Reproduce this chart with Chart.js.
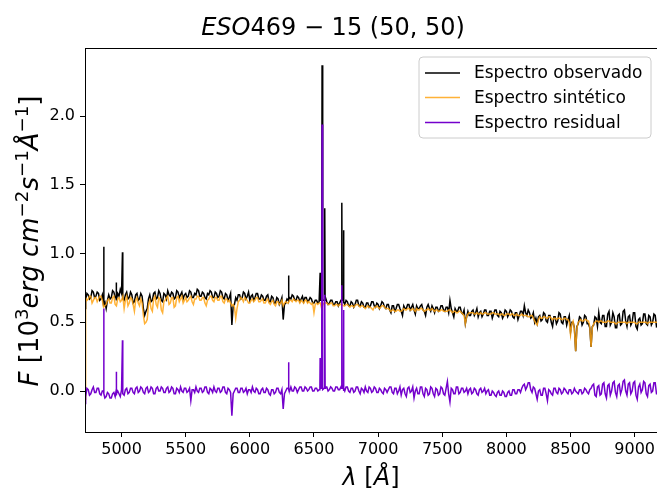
<!DOCTYPE html>
<html>
<head>
<meta charset="utf-8">
<script src="https://cdn.jsdelivr.net/npm/chart.js@4.4.1/dist/chart.umd.min.js"></script>
<style>
  html, body { margin: 0; padding: 0; background: #fff; overflow: hidden; }
  #caja { width: 657px; height: 495px; overflow: hidden; }
</style>
</head>
<body>
<div id="caja"><canvas id="espectro" width="662" height="495"></canvas></div>
<script>
// Malla de longitudes de onda (Å): 4720 a 9180 cada 10
const lambdaInicio = 4720;
const lambdaPaso = 10;

// Espectro observado (10^3 erg cm^-2 s^-1 Å^-1), filas de 20 puntos (200 Å)
const observado = [
  0.66,0.71,0.70,0.67,0.68,0.73,0.72,0.68,0.69,0.72,0.71,0.66,0.67,0.70,0.62,0.65,0.60,0.66,0.70,0.67, // 4720
  0.68,0.73,0.72,0.68,0.66,0.71,0.69,0.74,0.71,0.67,0.66,0.70,0.72,0.67,0.68,0.72,0.70,0.64,0.65,0.70, // 4920
  0.71,0.66,0.67,0.71,0.69,0.60,0.55,0.58,0.60,0.67,0.70,0.65,0.66,0.71,0.72,0.67,0.68,0.73,0.71,0.66, // 5120
  0.65,0.71,0.70,0.67,0.73,0.70,0.69,0.72,0.71,0.67,0.68,0.73,0.72,0.68,0.70,0.72,0.67,0.70,0.71,0.68, // 5320
  0.69,0.73,0.72,0.68,0.68,0.71,0.70,0.74,0.73,0.69,0.69,0.72,0.71,0.68,0.67,0.71,0.70,0.73,0.72,0.68, // 5520
  0.68,0.72,0.71,0.68,0.69,0.73,0.72,0.68,0.67,0.71,0.70,0.66,0.68,0.71,0.48,0.62,0.63,0.68,0.66,0.70, // 5720
  0.70,0.67,0.68,0.72,0.71,0.67,0.69,0.72,0.66,0.69,0.70,0.66,0.68,0.71,0.71,0.67,0.67,0.70,0.69,0.66, // 5920
  0.66,0.69,0.70,0.65,0.65,0.69,0.68,0.64,0.64,0.68,0.67,0.63,0.65,0.68,0.52,0.63,0.64,0.67,0.66,0.68, // 6120
  0.67,0.70,0.69,0.66,0.66,0.69,0.68,0.65,0.67,0.69,0.65,0.68,0.68,0.65,0.66,0.68,0.67,0.64,0.64,0.66, // 6320
  0.66,0.64,0.65,0.67,0.66,0.66,0.66,0.68,0.65,0.63,0.64,0.66,0.66,0.63,0.63,0.65,0.65,0.62,0.64,0.66, // 6520
  0.66,0.64,0.63,0.66,0.65,0.62,0.62,0.65,0.64,0.61,0.63,0.66,0.66,0.62,0.62,0.65,0.64,0.61,0.61,0.64, // 6720
  0.64,0.61,0.62,0.65,0.65,0.62,0.61,0.64,0.63,0.60,0.62,0.65,0.64,0.61,0.60,0.63,0.63,0.59,0.57,0.62, // 6920
  0.62,0.58,0.60,0.63,0.63,0.60,0.58,0.55,0.62,0.60,0.60,0.63,0.63,0.59,0.61,0.63,0.59,0.56,0.62,0.60, // 7120
  0.60,0.62,0.63,0.59,0.58,0.55,0.61,0.63,0.60,0.58,0.62,0.60,0.57,0.61,0.61,0.58,0.59,0.62,0.62,0.59, // 7320
  0.58,0.61,0.61,0.57,0.66,0.60,0.57,0.54,0.60,0.58,0.58,0.61,0.61,0.57,0.56,0.59,0.49,0.54,0.58,0.55, // 7520
  0.55,0.58,0.59,0.55,0.57,0.60,0.54,0.57,0.58,0.54,0.56,0.59,0.59,0.55,0.55,0.58,0.58,0.53,0.56,0.59, // 7720
  0.59,0.55,0.54,0.58,0.57,0.53,0.55,0.59,0.58,0.54,0.56,0.59,0.58,0.54,0.53,0.57,0.57,0.52,0.55,0.58, // 7920
  0.58,0.55,0.62,0.57,0.55,0.59,0.57,0.53,0.54,0.57,0.50,0.53,0.49,0.54,0.55,0.51,0.52,0.57,0.56,0.51, // 8120
  0.50,0.55,0.55,0.50,0.47,0.54,0.54,0.49,0.51,0.57,0.56,0.50,0.49,0.54,0.54,0.48,0.52,0.55,0.43,0.50, // 8320
  0.50,0.46,0.29,0.47,0.49,0.54,0.53,0.48,0.50,0.55,0.54,0.49,0.49,0.46,0.32,0.47,0.48,0.54,0.53,0.47, // 8520
  0.57,0.50,0.49,0.55,0.55,0.47,0.47,0.56,0.58,0.48,0.50,0.57,0.54,0.46,0.46,0.55,0.56,0.48,0.49,0.58, // 8720
  0.59,0.51,0.47,0.54,0.55,0.48,0.50,0.57,0.57,0.47,0.45,0.52,0.53,0.48,0.49,0.56,0.56,0.49,0.48,0.55, // 8920
  0.54,0.48,0.50,0.56,0.55,0.47,0.48                                                                  // 9120
];

// Espectro sintético
const sintetico = [
  0.68,0.66,0.67,0.69,0.69,0.64,0.66,0.68,0.68,0.65,0.67,0.69,0.69,0.66,0.61,0.62,0.63,0.66,0.67,0.64, // 4720
  0.64,0.68,0.69,0.63,0.62,0.67,0.68,0.65,0.66,0.69,0.60,0.66,0.69,0.62,0.64,0.68,0.67,0.63,0.58,0.66, // 4920
  0.68,0.64,0.62,0.67,0.64,0.55,0.49,0.50,0.52,0.63,0.66,0.60,0.58,0.67,0.69,0.63,0.61,0.68,0.67,0.59, // 5120
  0.57,0.65,0.66,0.68,0.69,0.63,0.64,0.68,0.68,0.61,0.62,0.68,0.69,0.65,0.67,0.69,0.64,0.66,0.68,0.65, // 5320
  0.66,0.68,0.69,0.65,0.63,0.67,0.67,0.69,0.69,0.66,0.66,0.68,0.68,0.64,0.62,0.66,0.67,0.69,0.69,0.66, // 5520
  0.65,0.68,0.68,0.66,0.66,0.69,0.69,0.65,0.64,0.67,0.67,0.65,0.66,0.64,0.62,0.63,0.61,0.53,0.60,0.65, // 5720
  0.66,0.68,0.67,0.65,0.68,0.67,0.66,0.64,0.64,0.66,0.67,0.65,0.66,0.68,0.68,0.65,0.65,0.66,0.67,0.64, // 5920
  0.64,0.66,0.67,0.64,0.63,0.65,0.66,0.63,0.62,0.65,0.65,0.63,0.64,0.66,0.62,0.64,0.65,0.64,0.64,0.66, // 6120
  0.66,0.65,0.67,0.66,0.65,0.66,0.66,0.64,0.66,0.65,0.64,0.66,0.66,0.64,0.65,0.64,0.63,0.64,0.57,0.63, // 6320
  0.64,0.63,0.64,0.64,0.60,0.63,0.64,0.64,0.64,0.63,0.63,0.64,0.64,0.62,0.62,0.63,0.63,0.62,0.63,0.63, // 6520
  0.63,0.62,0.62,0.63,0.63,0.62,0.61,0.62,0.62,0.61,0.62,0.63,0.63,0.62,0.61,0.62,0.62,0.61,0.60,0.61, // 6720
  0.62,0.61,0.61,0.60,0.59,0.61,0.61,0.62,0.61,0.60,0.61,0.62,0.62,0.61,0.60,0.60,0.60,0.59,0.58,0.59, // 6920
  0.59,0.58,0.58,0.59,0.59,0.58,0.58,0.59,0.60,0.59,0.59,0.60,0.60,0.59,0.59,0.60,0.59,0.58,0.60,0.59, // 7120
  0.59,0.60,0.60,0.59,0.58,0.59,0.59,0.60,0.59,0.59,0.60,0.59,0.58,0.59,0.59,0.58,0.58,0.59,0.59,0.58, // 7320
  0.58,0.58,0.58,0.59,0.59,0.58,0.57,0.58,0.58,0.57,0.57,0.58,0.58,0.57,0.56,0.55,0.49,0.54,0.56,0.57, // 7520
  0.57,0.57,0.57,0.56,0.56,0.57,0.56,0.56,0.57,0.56,0.56,0.57,0.57,0.56,0.56,0.56,0.56,0.57,0.57,0.56, // 7720
  0.56,0.56,0.56,0.55,0.56,0.56,0.55,0.55,0.56,0.56,0.56,0.55,0.56,0.56,0.55,0.55,0.56,0.55,0.55,0.55, // 7920
  0.56,0.55,0.55,0.55,0.55,0.54,0.54,0.55,0.55,0.53,0.51,0.49,0.48,0.52,0.54,0.53,0.53,0.54,0.54,0.53, // 8120
  0.53,0.54,0.54,0.53,0.52,0.53,0.53,0.52,0.53,0.53,0.53,0.52,0.52,0.53,0.53,0.52,0.52,0.50,0.41,0.49, // 8320
  0.51,0.45,0.29,0.46,0.50,0.51,0.52,0.51,0.51,0.52,0.52,0.51,0.51,0.47,0.32,0.46,0.49,0.50,0.51,0.51, // 8520
  0.50,0.51,0.51,0.50,0.50,0.50,0.50,0.51,0.51,0.50,0.50,0.50,0.50,0.49,0.49,0.50,0.50,0.50,0.50,0.50, // 8720
  0.50,0.50,0.49,0.50,0.50,0.50,0.50,0.50,0.50,0.49,0.49,0.50,0.50,0.50,0.50,0.50,0.50,0.50,0.49,0.50, // 8920
  0.50,0.50,0.50,0.50,0.50,0.50,0.50                                                                  // 9120
];

// Espectro residual
const residual = [
  -0.04,0.02,0.01,-0.03,-0.02,0.01,0.03,-0.01,-0.01,0.02,0.02,-0.02,-0.03,0.00,0.00,-0.05,-0.04,-0.01,-0.02,-0.05, // 4720
  -0.05,-0.02,-0.01,-0.04,-0.03,0.00,-0.02,-0.04,0.01,-0.02,-0.03,0.01,0.02,-0.02,-0.01,0.02,0.02,-0.01,-0.02,0.02, // 4920
  0.03,-0.01,0.00,0.03,0.02,-0.01,-0.02,0.02,0.03,-0.01,0.00,0.03,0.02,-0.02,-0.02,0.02,0.03,0.00,0.00,0.03,      // 5120
  0.02,-0.01,-0.01,0.02,0.03,-0.01,0.00,0.03,0.02,-0.02,-0.02,0.02,0.01,-0.01,0.03,0.00,-0.01,0.02,0.02,-0.01,    // 5320
  0.00,0.02,-0.07,0.01,0.01,-0.01,0.03,0.00,-0.01,0.02,0.02,-0.01,0.00,0.03,0.03,-0.01,-0.02,0.02,0.01,-0.01,     // 5520
  0.03,0.00,-0.01,0.02,0.02,-0.01,0.00,0.03,0.03,-0.01,-0.02,0.02,0.01,-0.01,-0.18,-0.02,0.00,0.02,0.02,-0.01,    // 5720
  -0.01,0.02,0.02,-0.01,0.00,0.02,-0.02,0.01,0.01,-0.01,0.03,0.00,-0.01,0.02,0.01,-0.02,-0.02,0.01,0.02,-0.01,    // 5920
  -0.01,0.02,0.01,-0.02,-0.03,0.01,0.01,-0.02,-0.01,0.02,0.02,-0.01,-0.02,0.01,-0.13,-0.02,0.00,0.02,0.02,0.00,   // 6120
  0.03,0.00,0.00,0.03,0.02,-0.01,0.01,0.03,0.03,0.00,0.00,0.03,0.02,0.00,0.01,0.03,0.03,0.00,0.00,0.02,           // 6320
  0.02,0.00,0.01,0.03,0.02,0.01,0.02,0.03,0.03,0.00,0.01,0.03,0.02,0.00,0.00,0.03,0.03,0.01,0.01,0.03,            // 6520
  0.02,0.00,0.00,0.03,0.03,0.00,-0.01,0.02,0.02,-0.01,0.00,0.03,0.03,0.00,-0.02,0.02,0.01,-0.01,0.03,0.00,        // 6720
  -0.01,0.03,0.02,-0.01,0.00,0.03,0.02,-0.01,-0.01,0.02,0.01,-0.01,-0.02,0.02,0.01,-0.01,0.01,0.03,0.03,-0.01,    // 6920
  -0.02,0.02,0.02,-0.02,0.00,0.03,-0.03,0.01,0.02,-0.02,-0.04,0.02,0.03,-0.01,0.00,0.03,-0.05,0.00,0.02,-0.02,    // 7120
  -0.02,0.03,0.03,-0.02,-0.04,0.02,0.01,-0.03,-0.02,0.03,0.02,-0.02,-0.04,0.02,0.01,-0.03,-0.02,0.03,0.02,-0.02,  // 7320
  -0.03,0.02,0.07,-0.02,-0.08,0.02,0.01,-0.02,-0.02,0.03,0.03,-0.02,-0.01,0.02,0.02,-0.01,0.00,0.02,-0.02,0.01,   // 7520
  0.02,-0.02,-0.01,0.02,0.01,-0.02,-0.03,0.01,0.02,-0.01,0.00,0.02,-0.02,0.00,0.01,-0.03,-0.03,0.00,-0.01,-0.03,  // 7720
  -0.04,-0.01,0.00,-0.03,-0.03,0.00,-0.01,-0.04,-0.04,-0.01,0.00,-0.03,-0.03,0.01,0.01,-0.02,-0.02,0.01,0.01,-0.01, // 7920
  0.02,0.04,0.05,0.01,0.03,0.06,0.06,0.01,-0.01,0.03,0.02,-0.02,-0.06,0.00,0.01,-0.03,-0.03,0.02,0.02,-0.02,      // 8120
  -0.07,0.01,0.00,-0.02,-0.03,0.02,0.02,-0.01,-0.02,0.02,0.01,-0.02,-0.01,0.02,0.01,-0.01,-0.02,0.01,0.01,-0.02,  // 8320
  -0.01,0.02,0.00,-0.01,-0.02,0.01,0.01,-0.02,-0.01,0.02,0.01,-0.01,-0.02,0.01,0.02,0.04,0.05,-0.03,-0.04,0.03,   // 8520
  0.04,-0.03,-0.02,0.05,0.06,-0.02,-0.05,0.04,0.05,-0.03,0.00,0.06,0.07,-0.01,-0.04,0.04,0.05,-0.02,0.01,0.07,    // 8720
  0.08,0.00,-0.03,0.05,0.06,-0.02,0.00,0.06,0.07,-0.03,-0.06,0.03,0.05,-0.01,0.01,0.07,0.06,-0.02,-0.04,0.04,     // 8920
  0.05,-0.01,0.00,0.06,0.06,-0.02,-0.02                                                                          // 9120
];

// Líneas de emisión y bordes estrechos [λ, valor]
const lineasObservado = [
  [4716, 0.60], [4861, 1.05], [4863, 0.64], [4957, 0.68], [4959, 0.79],
  [5007, 1.01], [5009, 0.68], [6302, 0.84], [6304, 0.66],
  [6548, 0.86], [6552, 0.66], [6563, 2.37], [6566, 0.70],
  [6584, 1.33], [6587, 0.66], [6715, 0.66], [6717, 1.37], [6721, 0.68],
  [6729, 0.68], [6731, 1.17], [6734, 0.65]
];
const lineasSintetico = [[4716, -0.06]];
const lineasResidual = [
  [4716, -0.09], [4861, 0.60], [4863, -0.02], [4957, 0.00], [4959, 0.14], [4961, -0.02],
  [5007, 0.37], [5009, 0.00], [6302, 0.21], [6304, 0.01],
  [6546, 0.02], [6548, 0.24], [6552, 0.02], [6563, 1.94], [6566, 0.03],
  [6584, 0.70], [6587, 0.02], [6715, 0.02], [6717, 0.77], [6721, 0.03],
  [6729, 0.03], [6731, 0.59], [6734, 0.02]
];

const ticksX = [5000, 5500, 6000, 6500, 7000, 7500, 8000, 8500, 9000];
const ticksY = [0.0, 0.5, 1.0, 1.5, 2.0];

const fuente = '"DejaVu Sans", sans-serif';

function serie(valores, lineas) {
  const puntos = valores.map((v, i) => ({ x: lambdaInicio + i * lambdaPaso, y: v }));
  lineas.forEach(p => puntos.push({ x: p[0], y: p[1] }));
  puntos.sort((a, b) => a.x - b.x);
  return puntos;
}

// Texto con partes en cursiva y superíndices: [texto, cursiva, superindice]
function textoMixto(ctx, partes, x, y, tam) {
  let ancho = 0;
  const anchos = partes.map(p => {
    const t = p[2] ? tam * 0.7 : tam;
    ctx.font = (p[1] ? 'italic ' : '') + t + 'px ' + fuente;
    const w = ctx.measureText(p[0]).width;
    ancho += w;
    return w;
  });
  let cx = x - ancho / 2;
  partes.forEach((p, i) => {
    const t = p[2] ? tam * 0.7 : tam;
    ctx.font = (p[1] ? 'italic ' : '') + t + 'px ' + fuente;
    ctx.fillText(p[0], cx, p[2] ? y - tam * 0.4 : y);
    cx += anchos[i];
  });
}

const decoracion = {
  id: 'decoracion',
  afterDraw(chart) {
    const ctx = chart.ctx;
    const a = chart.chartArea;
    ctx.save();
    // marco completo
    ctx.strokeStyle = '#000';
    ctx.lineWidth = 1;
    ctx.strokeRect(a.left + 0.5, a.top + 0.5, a.right - a.left, a.bottom - a.top);

    ctx.fillStyle = '#000';
    ctx.textAlign = 'left';
    ctx.textBaseline = 'alphabetic';
    // título
    textoMixto(ctx, [['ESO', true], ['469', false], [' \u2212 ', false], ['15 (50, 50)', false]], 333, 35, 24);
    // eje x
    textoMixto(ctx, [['\u03bb', true], [' [', false], ['\u00c5', true], [']', false]], 371, 485, 24);
    // eje y
    ctx.save();
    ctx.translate(38, 241);
    ctx.rotate(-Math.PI / 2);
    textoMixto(ctx, [
      ['F', true], [' [', false], ['10', false], ['3', false, true], ['erg', true], [' ', false],
      ['cm', true], ['\u22122', false, true], ['s', true], ['\u22121', false, true],
      ['\u00c5', true], ['\u22121', false, true], [']', false]
    ], 0, 0, 26);
    ctx.restore();

    // leyenda
    const lx = 419, ly = 57, lw = 232, lh = 81, r = 4;
    ctx.beginPath();
    ctx.moveTo(lx + r, ly);
    ctx.arcTo(lx + lw, ly, lx + lw, ly + lh, r);
    ctx.arcTo(lx + lw, ly + lh, lx, ly + lh, r);
    ctx.arcTo(lx, ly + lh, lx, ly, r);
    ctx.arcTo(lx, ly, lx + lw, ly, r);
    ctx.closePath();
    ctx.fillStyle = 'rgba(255,255,255,0.8)';
    ctx.fill();
    ctx.strokeStyle = '#cccccc';
    ctx.stroke();
    const entradas = chart.data.datasets;
    const filas = [73, 97.5, 122.5];
    ctx.font = '17px ' + fuente;
    ctx.textBaseline = 'middle';
    entradas.forEach((d, i) => {
      ctx.strokeStyle = d.borderColor;
      ctx.lineWidth = 1.5;
      ctx.beginPath();
      ctx.moveTo(425, filas[i]);
      ctx.lineTo(460, filas[i]);
      ctx.stroke();
      ctx.fillStyle = '#000';
      ctx.fillText(d.label, 474, filas[i] + 1);
    });
    ctx.restore();
  }
};

new Chart(document.getElementById('espectro'), {
  type: 'line',
  data: {
    datasets: [
      { label: 'Espectro observado', data: serie(observado, lineasObservado), borderColor: '#000000', order: 3 },
      { label: 'Espectro sintético', data: serie(sintetico, lineasSintetico), borderColor: 'rgba(255,165,20,0.85)', order: 2 },
      { label: 'Espectro residual', data: serie(residual, lineasResidual), borderColor: '#7400cc', order: 1 }
    ]
  },
  options: {
    responsive: false,
    animation: false,
    devicePixelRatio: 1,
    elements: { point: { radius: 0 }, line: { borderWidth: 1.5, tension: 0 } },
    layout: { padding: { top: 48, left: 0, right: 0, bottom: 0 } },
    plugins: { legend: { display: false }, tooltip: { enabled: false }, title: { display: false } },
    scales: {
      x: {
        type: 'linear',
        min: 4715,
        max: 9213,
        afterFit: s => { s.height = 63; },
        afterBuildTicks: s => { s.ticks = ticksX.map(v => ({ value: v })); },
        grid: { drawOnChartArea: false, drawTicks: true, tickLength: 5, color: '#000' },
        border: { color: '#000' },
        ticks: { font: { family: fuente, size: 16 }, color: '#000', padding: 3, maxRotation: 0, callback: v => String(v) }
      },
      y: {
        min: -0.298,
        max: 2.496,
        afterFit: s => { s.width = 85; },
        afterBuildTicks: s => { s.ticks = ticksY.map(v => ({ value: v })); },
        grid: { drawOnChartArea: false, drawTicks: true, tickLength: 5, color: '#000' },
        border: { color: '#000' },
        ticks: { font: { family: fuente, size: 16 }, color: '#000', padding: 5, callback: v => v.toFixed(1) }
      }
    }
  },
  plugins: [decoracion]
});
</script>
</body>
</html>
